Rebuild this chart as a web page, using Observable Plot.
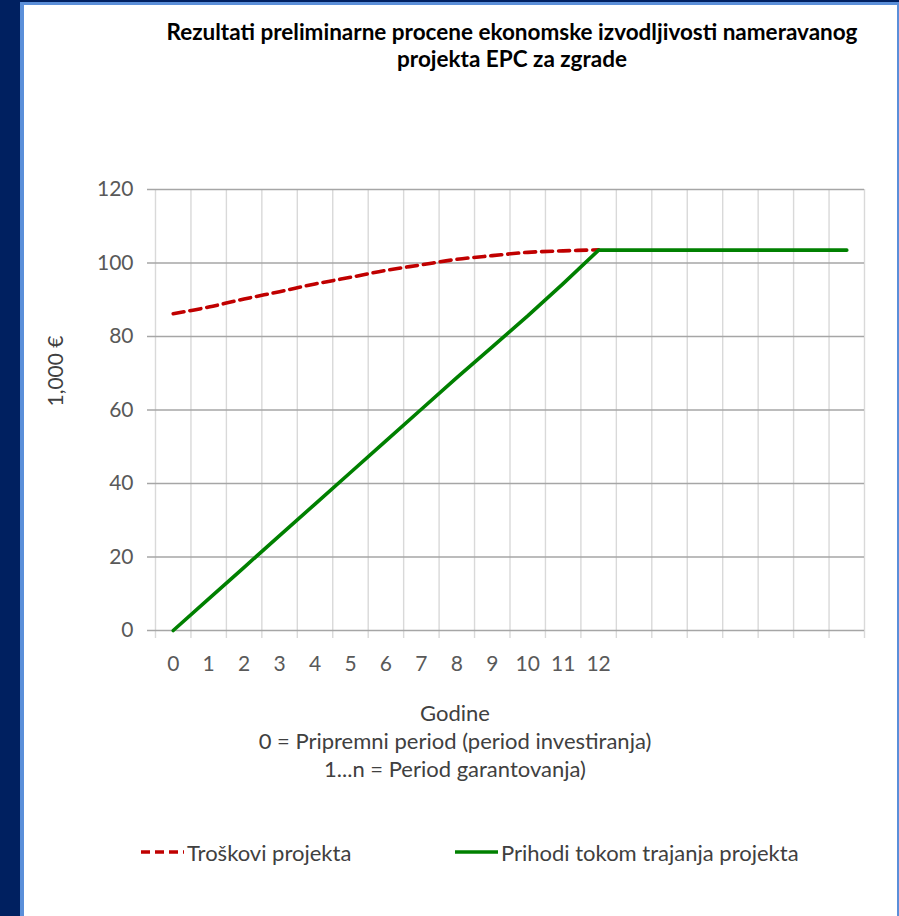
<!DOCTYPE html>
<html>
<head>
<meta charset="utf-8">
<script src="https://cdn.jsdelivr.net/npm/d3@7"></script>
<script src="https://cdn.jsdelivr.net/npm/@observablehq/plot@0.6"></script>
<style>
  body { margin: 0; background: #002060; }
  #page { position: relative; width: 899px; height: 916px; background: #002060; overflow: hidden; font-family: Lato, "Open Sans", sans-serif; color: #404040; }
  #panel { position: absolute; left: 20px; top: 2px; width: 873px; height: 930px; background: #fff;
           border-left: 4px solid #5b8fd9; border-top: 3px solid #5b8fd9; border-right: 2px solid #5b8fd9; }
  #chart { position: absolute; left: 0; top: 0; }
  #title { position: absolute; left: 112px; width: 800px; top: 18px; text-align: center; font-weight: bold;
           font-size: 22.5px; line-height: 27px; color: #000; }
  #ylabel { position: absolute; left: 5px; top: 359px; width: 100px; height: 24px; text-align: center;
            font-size: 21px; line-height: 24px; color: #404040; transform: rotate(-90deg); }
  #xtitle { position: absolute; left: 105px; width: 700px; top: 699px; text-align: center;
            font-size: 22px; line-height: 28px; color: #404040; }
  #legend { position: absolute; left: 0; top: 838px; width: 899px; height: 30px; font-size: 22px; color: #404040; }
  .item { position: absolute; top: 0; display: flex; align-items: center; height: 28px; }
  .item svg { margin-right: 3px; }
</style>
</head>
<body>
<div id="page">
  <div id="panel"></div>
  <div id="chart"></div>
  <div id="title">Rezultati preliminarne procene ekonomske izvodljivosti nameravanog<br>projekta EPC za zgrade</div>
  <div id="ylabel">1,000 €</div>
  <div id="xtitle">Godine<br>0 = Pripremni period (period investiranja)<br>1...n = Period garantovanja)</div>
  <div id="legend"></div>
</div>
<script>
// ---- data ----
const years = d3.range(20);                 // category slots 0..19 (only 0..12 labelled)
const xTickLabels = d3.range(13);           // 0..12
const yTicks = [0, 20, 40, 60, 80, 100, 120];
const troskovi = [86.2, 88.0, 90.2, 92.2, 94.3, 96.1, 98.0, 99.5, 101.0, 102.0, 102.9, 103.3, 103.6];
const prihodi = [0, 8.6, 17.2, 25.8, 34.4, 43, 51.6, 60.2, 68.8, 77.2, 85.6, 94.4, 103.5,
                 103.5, 103.5, 103.5, 103.5, 103.5, 103.5, 103.5];
const seriesNames = ["Troškovi projekta", "Prihodi tokom trajanja projekta"];
const seriesColors = ["#c00000", "#008000"];

const yearBoundaries = years.map(y => y - 0.5).concat([years[years.length - 1] + 0.5]);
const trosData = troskovi.map((v, i) => ({year: years[i], value: v}));
const prihData = prihodi.map((v, i) => ({year: years[i], value: v}));

const chart = Plot.plot({
  width: 899,
  height: 700,
  marginLeft: 155,
  marginRight: 35,
  marginTop: 189,
  marginBottom: 70,
  style: {fontFamily: "Lato, 'Open Sans', sans-serif", fontSize: "21px", color: "#595959", background: "none", overflow: "visible"},
  x: {domain: [yearBoundaries[0], yearBoundaries[yearBoundaries.length - 1]]},
  y: {domain: [0, 120]},
  marks: [
    Plot.ruleX(yearBoundaries, {stroke: "#d9d9d9", strokeWidth: 1.4, insetBottom: -8}),
    Plot.ruleY(yTicks, {stroke: "#a6a6a6", strokeWidth: 1.4, insetLeft: -8}),
    Plot.axisX({ticks: xTickLabels, tickSize: 0, tickPadding: 26, label: null, fontSize: 21, color: "#595959"}),
    Plot.axisY({ticks: yTicks, tickSize: 0, tickPadding: 22, label: null, fontSize: 21, color: "#595959"}),
    Plot.line(trosData, {x: "year", y: "value", stroke: seriesColors[0], strokeWidth: 3.6, strokeDasharray: "11,6", curve: "catmull-rom"}),
    Plot.line(prihData, {x: "year", y: "value", stroke: seriesColors[1], strokeWidth: 3.6})
  ]
});
document.getElementById("chart").appendChild(chart);

// legend
const legend = document.getElementById("legend");
const positions = [141, 455];
seriesNames.forEach((name, i) => {
  const item = document.createElement("div");
  item.className = "item";
  item.style.left = positions[i] + "px";
  const dash = i === 0 ? 'stroke-dasharray="9,5"' : "";
  item.innerHTML = `<svg width="43" height="10"><line x1="0" y1="5" x2="43" y2="5" stroke="${seriesColors[i]}" stroke-width="3.6" ${dash}/></svg><span>${name}</span>`;
  legend.appendChild(item);
});
</script>
</body>
</html>
